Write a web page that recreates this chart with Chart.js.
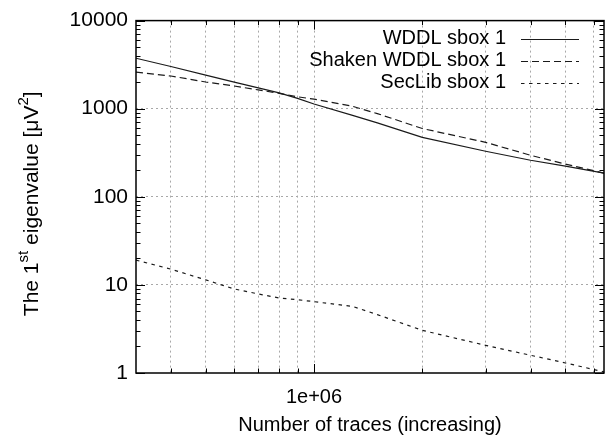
<!DOCTYPE html>
<html>
<head>
<meta charset="utf-8">
<script src="https://cdn.jsdelivr.net/npm/chart.js@4.4.0/dist/chart.umd.min.js"></script>
<style>
html,body{margin:0;padding:0;background:#fff;}
#c{display:block;}
</style>
</head>
<body>
<canvas id="c" width="612" height="438"></canvas>
<script>
// ---- data ----
const traces = [320000, 400000, 500000, 600000, 700000, 800000, 900000, 1000000, 1280000, 1500000, 2000000, 3000000, 4000000, 5000000, 6400000];
const wddl   = [3740, 3010, 2410, 2000, 1720, 1510, 1310, 1130, 840, 690, 472, 329, 260, 223, 186];
const shaken = [2600, 2350, 2010, 1810, 1635, 1495, 1365, 1285, 1065, 880, 596, 415, 296, 235, 186];
const seclib = [19.1, 15.1, 11.4, 9.0, 7.9, 7.1, 6.8, 6.45, 5.7, 4.6, 3.05, 2.06, 1.59, 1.30, 1.03];
const seriesNames = ['WDDL sbox 1', 'Shaken WDDL sbox 1', 'SecLib sbox 1'];

const xTickValues = [400000, 500000, 600000, 700000, 800000, 900000, 1000000, 2000000, 3000000, 4000000, 5000000, 6000000];
const xMajorValues = [1000000];
const xTickLabels = ['1e+06'];
const yTickValues = [1,2,3,4,5,6,7,8,9,10,20,30,40,50,60,70,80,90,100,200,300,400,500,600,700,800,900,1000,2000,3000,4000,5000,6000,7000,8000,9000,10000];
const yMajorValues = [1, 10, 100, 1000, 10000];
const yTickLabels = ['1', '10', '100', '1000', '10000'];
const xTitle = 'Number of traces (increasing)';
const yTitleParts = [['The 1', false], ['st', true], [' eigenvalue [\u03bcV', false], ['2', true], [']', false]];

const FONT = "'Liberation Sans', Arial, Helvetica, sans-serif";
const LINE = '#1a1a1a';
const GRID = '#a8a8a8';

const pts = ys => traces.map((x, i) => ({x: x, y: ys[i]}));

const framePlugin = {
  id: 'frame',
  afterDraw(chart) {
    const {ctx, chartArea: a, scales: {x, y}} = chart;
    ctx.save();
    // inward tick marks
    ctx.strokeStyle = '#000';
    ctx.lineWidth = 1;
    ctx.beginPath();
    y.ticks.forEach(t => {
      const p = Math.round(y.getPixelForValue(t.value)) + 0.5;
      const L = yMajorValues.includes(t.value) ? 9 : 4.5;
      ctx.moveTo(a.left, p); ctx.lineTo(a.left + L, p);
      ctx.moveTo(a.right, p); ctx.lineTo(a.right - L, p);
    });
    x.ticks.forEach(t => {
      const p = Math.round(x.getPixelForValue(t.value)) + 0.5;
      const L = xMajorValues.includes(t.value) ? 9 : 4.5;
      ctx.moveTo(p, a.bottom); ctx.lineTo(p, a.bottom - L);
      ctx.moveTo(p, a.top); ctx.lineTo(p, a.top + L);
    });
    ctx.stroke();
    // frame
    ctx.lineWidth = 1.5;
    ctx.strokeRect(a.left, a.top, a.right - a.left, a.bottom - a.top);

    // legend (text left of the sample line)
    ctx.font = '20px ' + FONT;
    ctx.textAlign = 'right';
    ctx.textBaseline = 'middle';
    chart.data.datasets.forEach((ds, i) => {
      const yy = a.top + 18 + 22 * i;
      const tx = a.right - 98;
      ctx.fillStyle = '#000';
      ctx.fillText(ds.label, tx, yy);
      ctx.save();
      ctx.strokeStyle = ds.borderColor;
      ctx.lineWidth = ds.borderWidth;
      ctx.setLineDash(ds.borderDash || []);
      ctx.beginPath();
      ctx.moveTo(tx + 15, Math.round(yy) + 0.5);
      ctx.lineTo(tx + 73, Math.round(yy) + 0.5);
      ctx.stroke();
      ctx.restore();
    });

    // y axis title with superscripts, rotated
    const mainSize = 21, supSize = 15, raise = 10;
    let total = 0;
    yTitleParts.forEach(([t, sup]) => {
      ctx.font = (sup ? supSize : mainSize) + 'px ' + FONT;
      total += ctx.measureText(t).width;
    });
    ctx.translate(38, (a.top + a.bottom) / 2 + 7);
    ctx.rotate(-Math.PI / 2);
    ctx.textAlign = 'left';
    ctx.textBaseline = 'alphabetic';
    ctx.fillStyle = '#000';
    let cx = -total / 2;
    yTitleParts.forEach(([t, sup]) => {
      ctx.font = (sup ? supSize : mainSize) + 'px ' + FONT;
      ctx.fillText(t, cx, sup ? -raise : 0);
      cx += ctx.measureText(t).width;
    });
    ctx.restore();
  }
};

new Chart(document.getElementById('c'), {
  type: 'line',
  data: {
    datasets: [
      {label: seriesNames[0], data: pts(wddl), borderColor: LINE, borderWidth: 1.2, borderDash: []},
      {label: seriesNames[1], data: pts(shaken), borderColor: LINE, borderWidth: 1.2, borderDash: [7, 4]},
      {label: seriesNames[2], data: pts(seclib), borderColor: LINE, borderWidth: 1.2, borderDash: [3.5, 4.5]}
    ]
  },
  options: {
    responsive: false,
    animation: false,
    devicePixelRatio: 1,
    layout: {padding: {top: 17, right: 8, left: 0, bottom: 0}},
    elements: {point: {radius: 0, hoverRadius: 0}, line: {tension: 0, fill: false}},
    plugins: {legend: {display: false}, tooltip: {enabled: false}},
    scales: {
      x: {
        type: 'logarithmic',
        min: 320000,
        max: 6400000,
        afterBuildTicks: s => { s.ticks = xTickValues.map(v => ({value: v})); },
        afterFit: s => { s.height = 65; },
        grid: {color: GRID, lineWidth: 1, drawTicks: false},
        border: {display: false, dash: [2, 3]},
        ticks: {
          autoSkip: false, maxRotation: 0, padding: 12, color: '#000',
          font: {family: FONT, size: 20},
          callback: v => { const i = xMajorValues.indexOf(v); return i >= 0 ? xTickLabels[i] : ''; }
        },
        title: {display: true, text: xTitle, color: '#000', font: {family: FONT, size: 20}, padding: {top: 0, bottom: 1}}
      },
      y: {
        type: 'logarithmic',
        min: 1,
        max: 10000,
        afterBuildTicks: s => { s.ticks = yTickValues.map(v => ({value: v})); },
        afterFit: s => { s.width = 136; },
        grid: {
          color: c => (c.tick && [10, 100, 1000].includes(c.tick.value)) ? GRID : 'rgba(0,0,0,0)',
          lineWidth: 1, drawTicks: false
        },
        border: {display: false, dash: [2, 3]},
        ticks: {
          autoSkip: false, padding: 8, color: '#000',
          font: {family: FONT, size: 21},
          callback: v => { const i = yMajorValues.indexOf(v); return i >= 0 ? yTickLabels[i] : ''; }
        }
      }
    }
  },
  plugins: [framePlugin]
});
</script>
</body>
</html>
